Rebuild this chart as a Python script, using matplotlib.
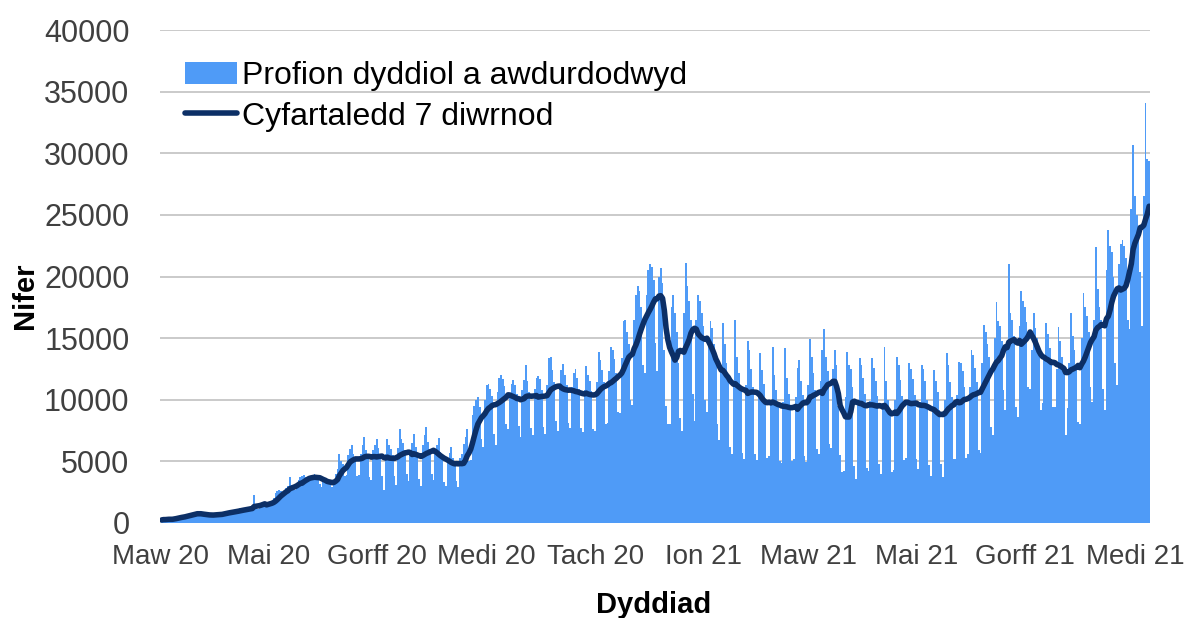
import numpy as np
import pandas as pd
import matplotlib
matplotlib.use("Agg")
import matplotlib.pyplot as plt

plt.rcParams['font.family'] = ['Liberation Sans', 'DejaVu Sans']

# daily tests authorised, one row per week (Mon..Sun), first day 2 Mar 2020
tests_2020_spring = [
    [250, 300, 280, 320, 350, 300, 310],
    [420, 480, 520, 560, 540, 470, 500],
    [680, 740, 800, 820, 790, 700, 720],
    [700, 720, 680, 650, 640, 590, 600],
    [650, 700, 760, 750, 720, 640, 680],
    [880, 940, 960, 950, 920, 800, 850],
    [1050, 1150, 1180, 1150, 1120, 980, 1050],
    [1250, 1300, 1380, 2270, 1300, 1150, 1200],
    [1550, 1700, 1720, 1680, 1600, 1450, 1500],
    [2000, 2400, 2600, 2700, 2600, 2300, 2300],
    [2800, 3000, 3700, 3100, 3000, 2700, 2800],
    [3500, 3700, 3800, 3900, 3700, 3300, 3400],
    [3800, 3900, 4000, 3800, 3600, 3200, 2900],
]
tests_2020_summer = [
    [3300, 3500, 3400, 3500, 3400, 2900, 3100],
    [4000, 4400, 5600, 5000, 4800, 3800, 3900],
    [5500, 6000, 6300, 5600, 5300, 3800, 3900],
    [5600, 6300, 7000, 5900, 5400, 3700, 3500],
    [5900, 6300, 6800, 6100, 5600, 3800, 2700],
    [5600, 6800, 6300, 6000, 5500, 3800, 3100],
    [6100, 7600, 6800, 6500, 5900, 4000, 3400],
    [5800, 6500, 7200, 6200, 5500, 3600, 3000],
    [6300, 7100, 7800, 6600, 6000, 4000, 3500],
    [5700, 6300, 6900, 5800, 5300, 3300, 3000],
    [5100, 5700, 6200, 5300, 5000, 3400, 2900],
    [5300, 5600, 6400, 7000, 7600, 5000, 5100],
    [8800, 9500, 10000, 10200, 9400, 6800, 6200],
]
tests_2020_autumn = [
    [10000, 11200, 11300, 10900, 10300, 7200, 6300],
    [10600, 11800, 12000, 11700, 11100, 8000, 7600],
    [10500, 11300, 11600, 11200, 10500, 7900, 7000],
    [10800, 11600, 12800, 11500, 10600, 7700, 7100],
    [10900, 11800, 11900, 11700, 10800, 7800, 7200],
    [11200, 13400, 13500, 12400, 11400, 8300, 7500],
    [11300, 12400, 12900, 12000, 11200, 8100, 7700],
    [11000, 12200, 12500, 11800, 10900, 7700, 7400],
    [10800, 12700, 12000, 11500, 10700, 7600, 7500],
    [11400, 13900, 13200, 12400, 11400, 8000, 8100],
    [12300, 14300, 14000, 13300, 12200, 9000, 8900],
    [13400, 16400, 16500, 15500, 14500, 10000, 9600],
    [16500, 18500, 19200, 18800, 17500, 12800, 12200],
]
tests_2020_winter = [
    [18500, 20500, 21000, 20800, 19700, 14600, 12300],
    [20000, 20700, 19500, 14000, 9500, 8000, 8000],
    [17500, 18500, 17000, 15500, 13000, 8500, 7500],
    [17000, 21100, 19200, 18000, 16500, 10500, 8300],
    [16500, 18500, 18000, 17000, 16000, 10000, 9000],
    [14500, 16400, 15800, 14500, 13000, 8000, 6700],
    [12500, 16200, 14500, 13000, 11800, 6200, 5600],
    [11500, 16500, 13500, 12200, 11000, 5700, 5200],
    [11200, 14800, 14000, 12500, 11000, 5600, 5100],
]
tests_2021_spring = [
    [10400, 13800, 12400, 11300, 10000, 5300, 5400],
    [10000, 14300, 12000, 10800, 9500, 5000, 4900],
    [9800, 14200, 11800, 10500, 9300, 5000, 5200],
    [10200, 12600, 13200, 11500, 10400, 5400, 4950],
    [11200, 14900, 13500, 12200, 10800, 6000, 5600],
    [11500, 14000, 15700, 13500, 12300, 6400, 6050],
    [12500, 14000, 12800, 9500, 5500, 4100, 4200],
    [10200, 13900, 12800, 12500, 11000, 4600, 3600],
    [10000, 13400, 12800, 11800, 10500, 4500, 4200],
    [9900, 13400, 12600, 11500, 10300, 4800, 4000],
    [9300, 14300, 11500, 10000, 8800, 4100, 4300],
    [10000, 13500, 12800, 11600, 10300, 5100, 5300],
    [10000, 13000, 12500, 11700, 10400, 5200, 4400],
    [9800, 12800, 12500, 11500, 10000, 4700, 3800],
    [9400, 12400, 11500, 10600, 9200, 4800, 3700],
    [10000, 13800, 12800, 11400, 10200, 5200, 5200],
    [10400, 13100, 13000, 12300, 11000, 5300, 5600],
    [11000, 14000, 13600, 12600, 11400, 5900, 5700],
    [13000, 16100, 15500, 14500, 13500, 7800, 7100],
]
tests_2021_summer = [
    [15000, 17900, 16400, 16000, 14800, 10800, 9200],
    [14500, 21000, 17000, 16500, 15200, 9400, 8600],
    [16000, 18800, 18000, 17500, 16300, 11000, 10900],
    [14000, 17000, 15800, 15000, 13800, 9200, 9700],
    [13500, 16200, 15300, 14200, 13000, 9400, 9400],
    [12500, 15900, 14800, 13500, 12300, 7100, 9300],
    [13000, 17000, 15200, 14000, 12800, 8200, 8000],
    [15000, 18700, 17500, 16800, 15500, 11000, 9800],
    [16500, 22400, 19000, 17500, 16500, 10900, 9200],
    [20500, 23800, 22500, 22000, 20000, 13000, 11200],
    [21000, 22600, 23000, 22500, 21500, 16500, 15700],
    [25500, 30700, 26500, 25000, 24000, 20400, 16000],
    [26500, 34100, 29500, 29400],
]

tick_labels = ['Maw 20', 'Mai 20', 'Gorff 20', 'Medi 20', 'Tach 20',
               'Ion 21', 'Maw 21', 'Mai 21', 'Gorff 21', 'Medi 21']

weeks = (tests_2020_spring + tests_2020_summer + tests_2020_autumn
         + tests_2020_winter + tests_2021_spring + tests_2021_summer)
daily = pd.Series([v for w in weeks for v in w], dtype=float)
dates = pd.date_range('2020-03-02', periods=len(daily), freq='D')
daily.index = dates
avg7 = daily.rolling(7, min_periods=1).mean()

fig = plt.figure(figsize=(11.89, 6.18), dpi=100)
ax = fig.add_axes([160 / 1189, 1 - 523 / 618, 990 / 1189, 493 / 618])

bars = ax.bar(dates, daily.values, width=1.0, color='#4f9bf7', linewidth=0,
              zorder=2)
line, = ax.plot(dates, avg7.values, color='#0c2f66', lw=4.0,
                solid_capstyle='round', zorder=3)

ax.set_ylim(0, 40000)
ax.set_yticks(np.arange(0, 40001, 5000))
ax.yaxis.grid(True, color='#c6c6c6', lw=1.3, zorder=0)
ax.set_axisbelow(True)

ticks = pd.date_range('2020-03-01', '2021-09-01', freq='2MS')
ax.set_xticks(ticks)
ax.set_xticklabels(tick_labels)
ax.set_xlim(pd.Timestamp('2020-03-01'), dates[-1] + pd.Timedelta(hours=12))

for s in ax.spines.values():
    s.set_visible(False)
ax.tick_params(axis='both', length=0, colors='#404040')
ax.tick_params(axis='y', labelsize=22, pad=22)
ax.tick_params(axis='x', labelsize=20, pad=15)

ax.set_ylabel('Nifer', fontsize=21, fontweight='bold')
ax.yaxis.set_label_coords(-0.122, 0.46)
ax.set_xlabel('Dyddiad', fontsize=21, fontweight='bold', va='center')
ax.xaxis.set_label_coords(0.499, -0.166)

ax.legend([bars, line], ['Profion dyddiol a awdurdodwyd', 'Cyfartaledd 7 diwrnod'],
          loc='upper left', bbox_to_anchor=(0.025, 0.937), frameon=False,
          fontsize=23, handlelength=1.65, handletextpad=0.15,
          labelspacing=0.33, borderpad=0, borderaxespad=0)

fig.savefig('out.png', dpi=100)
